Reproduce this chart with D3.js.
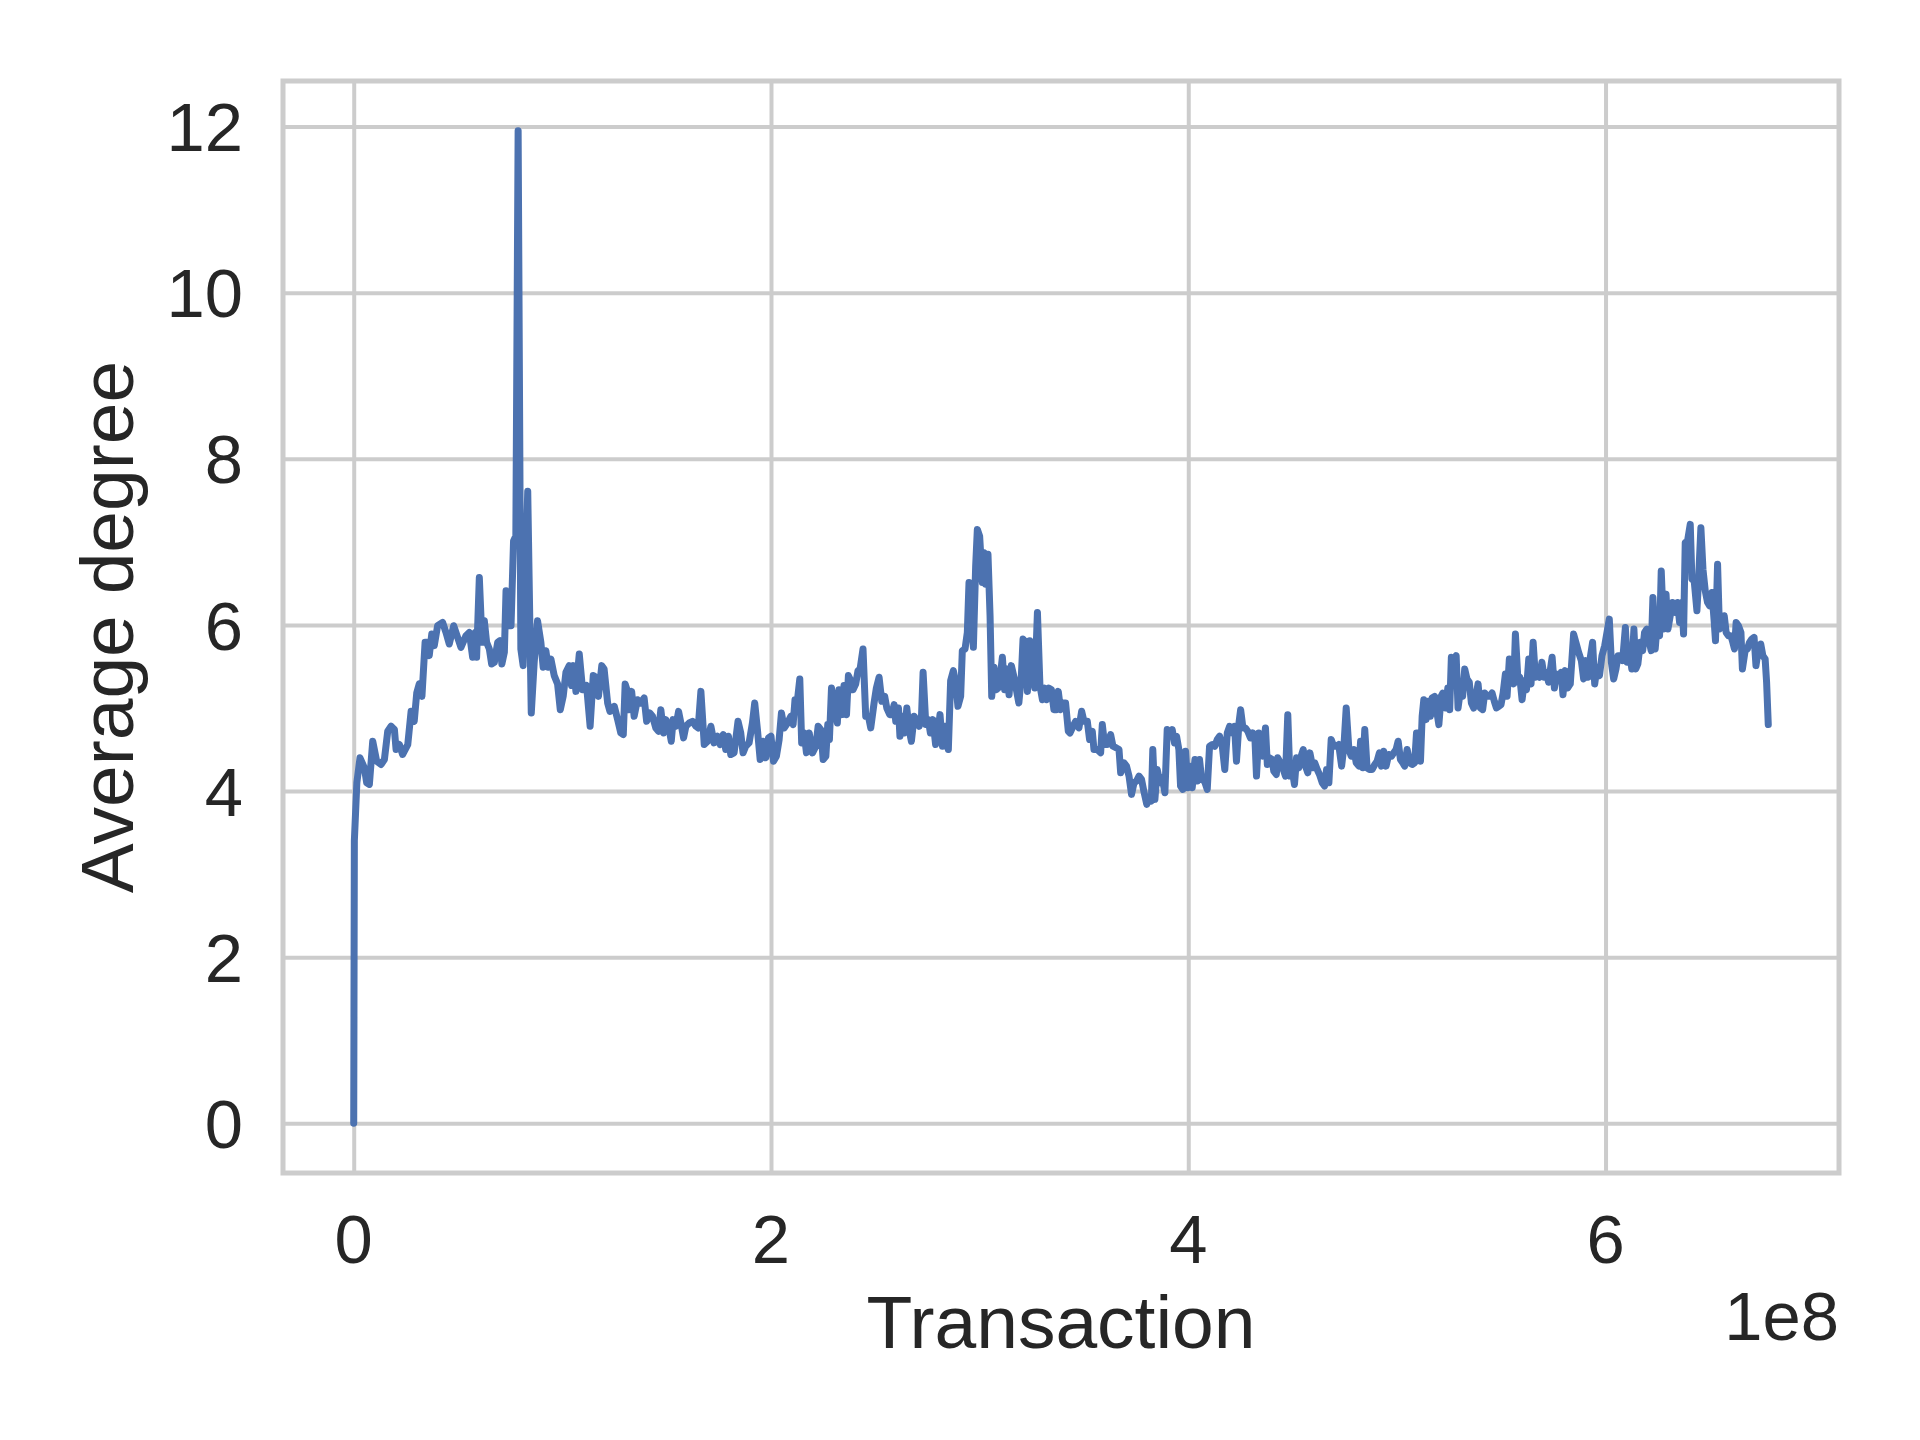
<!DOCTYPE html>
<html>
<head>
<meta charset="utf-8">
<script src="https://cdn.jsdelivr.net/npm/d3@7"></script>
<style>
  html, body { margin: 0; padding: 0; background: #ffffff; }
  svg { display: block; }
  text { font-family: "Liberation Sans", Arial, "DejaVu Sans", sans-serif; fill: #262626; }
</style>
</head>
<body>
<svg id="chart" width="1920" height="1440"></svg>
<script>
// Transaction index, in units of 1e8 (shown by the "1e8" offset label)
const transaction = [
  0, 0.003, 0.015, 0.030, 0.051, 0.062, 0.075, 0.091, 0.110, 0.131, 0.147, 0.163, 0.179, 0.195, 0.203, 0.219, 0.234, 0.259, 0.275, 0.290,
  0.302, 0.314, 0.327, 0.342, 0.351, 0.362, 0.374, 0.386, 0.402, 0.426, 0.442, 0.458, 0.479, 0.498, 0.514, 0.538, 0.554, 0.570, 0.583, 0.589,
  0.602, 0.615, 0.626, 0.637, 0.650, 0.661, 0.674, 0.690, 0.701, 0.710, 0.722, 0.730, 0.741, 0.754, 0.766, 0.777, 0.788, 0.801, 0.812, 0.834,
  0.851, 0.865, 0.881, 0.897, 0.908, 0.921, 0.932, 0.945, 0.961, 0.977, 0.990, 1.004, 1.017, 1.033, 1.044, 1.053, 1.065, 1.081, 1.097, 1.116,
  1.133, 1.148, 1.161, 1.173, 1.189, 1.200, 1.217, 1.228, 1.249, 1.265, 1.280, 1.292, 1.301, 1.312, 1.320, 1.332, 1.344, 1.360, 1.376, 1.392,
  1.404, 1.419, 1.432, 1.448, 1.461, 1.472, 1.485, 1.496, 1.509, 1.522, 1.531, 1.544, 1.557, 1.568, 1.581, 1.592, 1.608, 1.624, 1.640, 1.651,
  1.664, 1.680, 1.696, 1.712, 1.727, 1.744, 1.756, 1.771, 1.783, 1.796, 1.807, 1.823, 1.842, 1.855, 1.866, 1.879, 1.895, 1.911, 1.922, 1.935,
  1.948, 1.962, 1.975, 1.988, 2.000, 2.012, 2.026, 2.039, 2.050, 2.063, 2.079, 2.095, 2.106, 2.115, 2.127, 2.138, 2.147, 2.159, 2.170, 2.183,
  2.199, 2.215, 2.226, 2.239, 2.250, 2.263, 2.272, 2.280, 2.290, 2.302, 2.318, 2.326, 2.339, 2.350, 2.362, 2.371, 2.382, 2.393, 2.406, 2.417,
  2.427, 2.441, 2.454, 2.467, 2.478, 2.494, 2.505, 2.518, 2.531, 2.545, 2.555, 2.569, 2.579, 2.590, 2.598, 2.611, 2.618, 2.630, 2.641, 2.651,
  2.662, 2.673, 2.686, 2.697, 2.710, 2.721, 2.729, 2.742, 2.754, 2.764, 2.776, 2.789, 2.800, 2.810, 2.822, 2.834, 2.850, 2.861, 2.874, 2.885,
  2.896, 2.909, 2.917, 2.930, 2.941, 2.949, 2.960, 2.970, 2.981, 2.989, 3.000, 3.013, 3.021, 3.029, 3.040, 3.050, 3.058, 3.069, 3.080, 3.093,
  3.109, 3.120, 3.130, 3.141, 3.152, 3.165, 3.176, 3.188, 3.200, 3.208, 3.220, 3.229, 3.240, 3.253, 3.264, 3.277, 3.289, 3.301, 3.312, 3.321,
  3.332, 3.344, 3.356, 3.368, 3.377, 3.388, 3.399, 3.412, 3.425, 3.433, 3.444, 3.460, 3.476, 3.489, 3.500, 3.516, 3.527, 3.540, 3.548, 3.564,
  3.580, 3.588, 3.599, 3.612, 3.628, 3.639, 3.655, 3.668, 3.676, 3.692, 3.704, 3.716, 3.728, 3.740, 3.752, 3.764, 3.776, 3.787, 3.801, 3.811,
  3.823, 3.830, 3.840, 3.851, 3.864, 3.875, 3.888, 3.899, 3.910, 3.923, 3.934, 3.944, 3.955, 3.963, 3.974, 3.987, 3.998, 4.008, 4.019, 4.032,
  4.043, 4.054, 4.064, 4.078, 4.091, 4.102, 4.115, 4.127, 4.139, 4.150, 4.163, 4.175, 4.187, 4.198, 4.211, 4.222, 4.231, 4.243, 4.251, 4.262,
  4.274, 4.285, 4.298, 4.309, 4.319, 4.327, 4.338, 4.350, 4.357, 4.370, 4.379, 4.390, 4.402, 4.410, 4.422, 4.429, 4.442, 4.453, 4.466, 4.477,
  4.487, 4.498, 4.509, 4.519, 4.530, 4.541, 4.551, 4.562, 4.573, 4.583, 4.597, 4.606, 4.618, 4.629, 4.642, 4.653, 4.663, 4.674, 4.685, 4.697,
  4.709, 4.721, 4.735, 4.746, 4.757, 4.770, 4.781, 4.794, 4.805, 4.818, 4.826, 4.837, 4.846, 4.857, 4.868, 4.881, 4.894, 4.905, 4.916, 4.926,
  4.937, 4.948, 4.961, 4.974, 4.985, 4.996, 5.006, 5.017, 5.028, 5.037, 5.049, 5.062, 5.073, 5.085, 5.094, 5.105, 5.113, 5.121, 5.129, 5.140,
  5.150, 5.161, 5.169, 5.181, 5.190, 5.201, 5.212, 5.220, 5.233, 5.244, 5.253, 5.261, 5.272, 5.284, 5.293, 5.304, 5.315, 5.325, 5.336, 5.347,
  5.357, 5.368, 5.379, 5.389, 5.400, 5.411, 5.421, 5.432, 5.443, 5.456, 5.467, 5.477, 5.488, 5.499, 5.509, 5.520, 5.528, 5.539, 5.549, 5.560,
  5.568, 5.579, 5.589, 5.600, 5.611, 5.621, 5.632, 5.643, 5.653, 5.664, 5.675, 5.684, 5.695, 5.706, 5.716, 5.727, 5.744, 5.755, 5.764, 5.775,
  5.787, 5.796, 5.807, 5.818, 5.831, 5.847, 5.858, 5.871, 5.884, 5.895, 5.906, 5.916, 5.927, 5.938, 5.948, 5.959, 5.971, 5.983, 5.996, 6.007,
  6.018, 6.028, 6.039, 6.050, 6.060, 6.071, 6.082, 6.095, 6.104, 6.115, 6.126, 6.136, 6.145, 6.155, 6.167, 6.178, 6.187, 6.198, 6.210, 6.219,
  6.227, 6.238, 6.249, 6.259, 6.267, 6.278, 6.290, 6.299, 6.310, 6.321, 6.334, 6.345, 6.355, 6.366, 6.374, 6.382, 6.393, 6.406, 6.414, 6.425,
  6.438, 6.446, 6.457, 6.467, 6.478, 6.489, 6.499, 6.510, 6.520, 6.527, 6.537, 6.546, 6.558, 6.569, 6.578, 6.589, 6.601, 6.610, 6.618, 6.626,
  6.637, 6.649, 6.656, 6.669, 6.680, 6.690, 6.701, 6.712, 6.721, 6.733, 6.744, 6.754, 6.765, 6.772, 6.780
];

// Average degree at each transaction index
const avgDegree = [
  0, 3.40, 4.10, 4.40, 4.28, 4.10, 4.08, 4.60, 4.36, 4.32, 4.38, 4.72, 4.78, 4.74, 4.50, 4.56, 4.44, 4.56, 4.96, 4.84,
  5.18, 5.29, 5.14, 5.79, 5.79, 5.63, 5.89, 5.75, 5.99, 6.03, 5.91, 5.77, 5.99, 5.85, 5.73, 5.87, 5.91, 5.61, 5.91, 5.61,
  6.57, 5.79, 6.05, 5.79, 5.71, 5.53, 5.55, 5.79, 5.81, 5.53, 5.67, 6.41, 5.99, 5.99, 7.01, 7.07, 11.95, 5.71, 5.51, 7.61,
  4.94, 5.55, 6.05, 5.79, 5.49, 5.69, 5.49, 5.59, 5.39, 5.29, 4.98, 5.14, 5.43, 5.51, 5.27, 5.51, 5.20, 5.65, 5.22, 5.27,
  4.78, 5.39, 5.37, 5.14, 5.51, 5.47, 5.06, 4.96, 5.02, 4.86, 4.70, 4.68, 5.29, 5.20, 4.98, 5.20, 4.90, 5.10, 5.06, 5.12,
  4.84, 4.94, 4.90, 4.76, 4.72, 4.98, 4.70, 4.86, 4.78, 4.60, 4.86, 4.78, 4.96, 4.82, 4.64, 4.78, 4.82, 4.84, 4.78, 4.76,
  5.20, 4.56, 4.60, 4.78, 4.58, 4.66, 4.56, 4.68, 4.50, 4.66, 4.44, 4.46, 4.84, 4.70, 4.46, 4.54, 4.58, 4.82, 5.06, 4.74,
  4.38, 4.60, 4.40, 4.64, 4.66, 4.36, 4.42, 4.62, 4.94, 4.76, 4.82, 4.90, 4.80, 5.10, 5.10, 5.35, 4.58, 4.70, 4.46, 4.70,
  4.46, 4.54, 4.78, 4.74, 4.38, 4.42, 4.80, 4.62, 5.24, 5.06, 4.82, 5.22, 4.92, 5.27, 4.92, 5.39, 5.33, 5.22, 5.29, 5.45,
  5.47, 5.71, 4.90, 4.90, 4.76, 5.06, 5.24, 5.37, 5.08, 5.14, 5.00, 4.92, 4.92, 5.04, 4.84, 5.00, 4.66, 4.90, 4.70, 5.00,
  4.74, 4.60, 4.90, 4.86, 4.78, 4.88, 5.43, 4.80, 4.86, 4.70, 4.86, 4.56, 4.70, 4.92, 4.54, 4.78, 4.50, 5.33, 5.45, 5.31,
  5.02, 5.14, 5.69, 5.71, 5.91, 6.51, 6.15, 5.73, 6.71, 7.15, 7.07, 6.51, 6.87, 6.49, 6.85, 6.11, 5.14, 5.49, 5.22, 5.25,
  5.61, 5.22, 5.47, 5.16, 5.51, 5.37, 5.22, 5.06, 5.39, 5.83, 5.79, 5.20, 5.81, 5.43, 5.24, 6.15, 5.27, 5.10, 5.24, 5.10,
  5.24, 5.22, 4.98, 4.98, 5.20, 4.98, 5.06, 5.06, 4.72, 4.70, 4.76, 4.84, 4.76, 4.96, 4.84, 4.84, 4.62, 4.72, 4.50, 4.50,
  4.46, 4.80, 4.56, 4.56, 4.68, 4.54, 4.52, 4.50, 4.22, 4.34, 4.30, 4.18, 3.96, 4.10, 4.12, 4.18, 4.14, 4.00, 3.84, 3.92,
  3.88, 4.50, 3.90, 4.26, 4.10, 4.16, 3.98, 4.74, 4.68, 4.74, 4.58, 4.66, 4.50, 4.06, 4.02, 4.48, 4.04, 4.30, 4.04, 4.38,
  4.12, 4.38, 4.14, 4.12, 4.02, 4.54, 4.56, 4.54, 4.62, 4.66, 4.54, 4.26, 4.70, 4.78, 4.70, 4.78, 4.36, 4.82, 4.98, 4.76,
  4.76, 4.72, 4.64, 4.70, 4.66, 4.18, 4.70, 4.50, 4.42, 4.76, 4.32, 4.40, 4.38, 4.24, 4.20, 4.40, 4.34, 4.28, 4.18, 4.92,
  4.18, 4.26, 4.08, 4.40, 4.28, 4.42, 4.50, 4.30, 4.22, 4.46, 4.28, 4.34, 4.26, 4.20, 4.10, 4.06, 4.26, 4.10, 4.62, 4.54,
  4.54, 4.56, 4.30, 4.54, 5.00, 4.50, 4.42, 4.50, 4.34, 4.30, 4.60, 4.28, 4.74, 4.28, 4.26, 4.26, 4.32, 4.36, 4.46, 4.30,
  4.48, 4.30, 4.44, 4.42, 4.46, 4.50, 4.60, 4.38, 4.34, 4.30, 4.50, 4.34, 4.32, 4.34, 4.70, 4.70, 4.36, 4.90, 5.10, 4.86,
  5.08, 4.90, 5.12, 5.14, 4.98, 4.80, 5.14, 5.18, 5.00, 5.24, 4.98, 5.61, 5.57, 5.63, 5.00, 5.20, 5.14, 5.47, 5.35, 5.31,
  5.06, 5.00, 5.14, 5.29, 5.00, 4.98, 5.18, 5.14, 5.14, 5.18, 5.08, 5.00, 5.02, 5.04, 5.18, 5.41, 5.14, 5.59, 5.43, 5.29,
  5.89, 5.39, 5.37, 5.10, 5.33, 5.22, 5.59, 5.29, 5.79, 5.37, 5.39, 5.37, 5.55, 5.37, 5.43, 5.31, 5.61, 5.24, 5.41, 5.33,
  5.43, 5.16, 5.45, 5.24, 5.29, 5.89, 5.79, 5.67, 5.57, 5.35, 5.57, 5.37, 5.61, 5.79, 5.29, 5.49, 5.39, 5.63, 5.75, 5.91,
  6.07, 5.55, 5.35, 5.47, 5.63, 5.63, 5.57, 5.97, 5.55, 5.67, 5.47, 5.95, 5.47, 5.53, 5.79, 5.69, 5.91, 5.95, 5.79, 5.69,
  6.33, 5.71, 6.05, 5.87, 6.65, 5.95, 6.37, 5.95, 6.11, 6.27, 6.15, 6.27, 6.03, 6.27, 5.89, 6.99, 7.01, 7.21, 6.55, 6.53,
  6.17, 6.55, 7.17, 6.67, 6.41, 6.27, 6.23, 6.39, 6.07, 5.81, 6.73, 5.95, 5.99, 6.11, 5.91, 5.87, 5.87, 5.79, 5.71, 6.03,
  5.99, 5.91, 5.47, 5.69, 5.71, 5.79, 5.83, 5.85, 5.51, 5.71, 5.77, 5.63, 5.59, 5.31, 4.80
];

const xTickValues = [0, 2, 4, 6];
const yTickValues = [0, 2, 4, 6, 8, 10, 12];
const xLabel = "Transaction";
const yLabel = "Average degree";
const offsetLabel = "1e8";

const data = transaction.map((t, i) => ({ x: t, y: avgDegree[i] }));

const svg = d3.select("#chart");
const plot = { left: 283, right: 1839, top: 81, bottom: 1173 };
const gridColor = "#cccccc";
const lineColor = "#4c72b0";

// Matplotlib-like 5% margins
const xExt = d3.extent(transaction), yExt = d3.extent(avgDegree);
const xPad = (xExt[1] - xExt[0]) * 0.05, yPad = (yExt[1] - yExt[0]) * 0.05;
const x = d3.scaleLinear().domain([xExt[0] - xPad, xExt[1] + xPad]).range([plot.left, plot.right]);
const y = d3.scaleLinear().domain([yExt[0] - yPad, yExt[1] + yPad]).range([plot.bottom, plot.top]);

// Grid via axes
const gx = svg.append("g").attr("transform", `translate(0,${plot.bottom})`)
  .call(d3.axisBottom(x).tickValues(xTickValues).tickSize(-(plot.bottom - plot.top)).tickFormat(""));
gx.select(".domain").remove();
gx.selectAll(".tick line").attr("stroke", gridColor).attr("stroke-width", 4);

const gy = svg.append("g").attr("transform", `translate(${plot.left},0)`)
  .call(d3.axisLeft(y).tickValues(yTickValues).tickSize(-(plot.right - plot.left)).tickFormat(""));
gy.select(".domain").remove();
gy.selectAll(".tick line").attr("stroke", gridColor).attr("stroke-width", 4);

// Clip
svg.append("clipPath").attr("id", "clip").append("rect")
  .attr("x", plot.left).attr("y", plot.top)
  .attr("width", plot.right - plot.left).attr("height", plot.bottom - plot.top);

// Line
const line = d3.line().x(d => x(d.x)).y(d => y(d.y));
svg.append("path").datum(data)
  .attr("clip-path", "url(#clip)")
  .attr("d", line)
  .attr("fill", "none")
  .attr("stroke", lineColor)
  .attr("stroke-width", 7)
  .attr("stroke-linejoin", "round")
  .attr("stroke-linecap", "round");

// Spines
svg.append("rect")
  .attr("x", plot.left).attr("y", plot.top)
  .attr("width", plot.right - plot.left).attr("height", plot.bottom - plot.top)
  .attr("fill", "none").attr("stroke", gridColor).attr("stroke-width", 5);

// Tick labels
const tickFont = 68.75;
svg.append("g").selectAll("text").data(xTickValues).join("text")
  .attr("x", d => x(d)).attr("y", 1263)
  .attr("text-anchor", "middle")
  .attr("font-size", tickFont)
  .text(d => d);

svg.append("g").selectAll("text").data(yTickValues).join("text")
  .attr("x", 243).attr("y", d => y(d) + tickFont * 0.358)
  .attr("text-anchor", "end")
  .attr("font-size", tickFont)
  .text(d => d);

// Offset label
svg.append("text")
  .attr("x", plot.right).attr("y", 1340)
  .attr("text-anchor", "end")
  .attr("font-size", tickFont)
  .text(offsetLabel);

// Axis labels
svg.append("text")
  .attr("x", (plot.left + plot.right) / 2).attr("y", 1348)
  .attr("text-anchor", "middle")
  .attr("font-size", 75)
  .text(xLabel);

svg.append("text")
  .attr("transform", `translate(133,${(plot.top + plot.bottom) / 2}) rotate(-90)`)
  .attr("text-anchor", "middle")
  .attr("font-size", 75)
  .text(yLabel);
</script>
</body>
</html>
